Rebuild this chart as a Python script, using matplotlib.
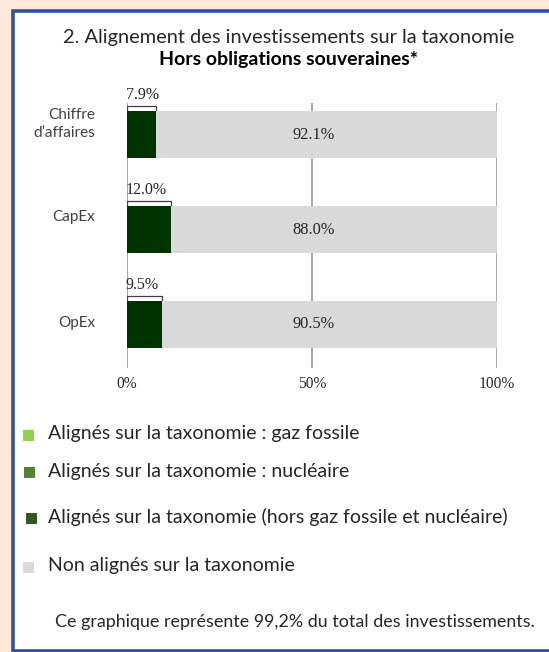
import matplotlib
matplotlib.use("Agg")
import matplotlib.pyplot as plt
from matplotlib.patches import Rectangle
from matplotlib.lines import Line2D

W, H = 549, 652

CATEGORIES = ["Chiffre\nd\u2019affaires", "CapEx", "OpEx"]
ALIGNED = [7.9, 12.0, 9.5]
NOT_ALIGNED = [92.1, 88.0, 90.5]
TICKS = [0, 50, 100]
TICK_LABELS = ["0%", "50%", "100%"]

LEGEND_LABELS = [
    "Alignés sur la taxonomie : gaz fossile",
    "Alignés sur la taxonomie : nucléaire",
    "Alignés sur la taxonomie (hors gaz fossile et nucléaire)",
    "Non alignés sur la taxonomie",
]
LEGEND_COLORS = ["#92d050", "#548235", "#375623", "#d9d9d9"]

TITLE = "2. Alignement des investissements sur la taxonomie"
SUBTITLE = "Hors obligations souveraines*"
FOOTER = "Ce graphique représente 99,2% du total des investissements."

SANS = ["Lato", "DejaVu Sans"]
SERIF = ["Liberation Serif", "DejaVu Serif"]

DARK_GREEN = "#003300"
GREY = "#d9d9d9"


def px(x, y):
    return x / W, 1 - y / H


fig = plt.figure(figsize=(W / 100, H / 100), dpi=100, facecolor="#fde9d9")

# white frame with blue border (behind the axes)
x0, y0 = px(12.5, 650.5)
x1, y1 = px(560, 10.5)
fig.patches.append(Rectangle((x0, y0), x1 - x0, y1 - y0, transform=fig.transFigure,
                             facecolor="white", edgecolor="#2f5597", linewidth=2.6,
                             zorder=-5))

fig.text(*px(289, 37), TITLE, ha="center", va="center", fontsize=14.4,
         family=SANS, color="#262626")
fig.text(*px(289, 60), SUBTITLE, ha="center", va="center", fontsize=14,
         family=SANS, fontweight="bold", color="black")

# bar chart area: 0% at x=127, 100% at x=497, grid from y=103 to 368
ax = fig.add_axes([127 / W, 1 - 368 / H, 370 / W, 265 / H])
ax.set_facecolor("none")
ypos = list(range(len(CATEGORIES)))
ax.barh(ypos, ALIGNED, height=0.495, color=DARK_GREEN, zorder=2)
ax.barh(ypos, NOT_ALIGNED, left=ALIGNED, height=0.495, color=GREY, zorder=2)
ax.set_xlim(0, 100)
ax.set_ylim(2.458, -0.332)
for t in TICKS:
    ax.axvline(t, color="#a6a6a6", linewidth=1.4, zorder=1)
for s in ax.spines.values():
    s.set_visible(False)
ax.set_xticks(TICKS)
ax.set_xticklabels(TICK_LABELS, family=SERIF, fontsize=11.2, color="#262626")
ax.tick_params(axis="x", length=0, pad=6)
ax.set_yticks([])

label_offsets = [-0.11, -0.13, -0.015]
for i, (cat, a, n) in enumerate(zip(CATEGORIES, ALIGNED, NOT_ALIGNED)):
    ax.text(-8.6, i + label_offsets[i], cat, ha="right", va="center", fontsize=11,
            family=SANS, color="#404040", linespacing=1.4)
    ax.text(50.5, i, f"{n:.1f}%", ha="center", va="center", fontsize=11.8,
            family=SERIF, color="#262626", zorder=3)
    # bracket above the aligned part
    yb = i - 0.3
    ax.add_line(Line2D([0, 0, a, a], [yb + 0.04, yb, yb, yb + 0.04],
                       color="#404040", linewidth=0.9, zorder=3))
    ax.text(-0.3, yb - 0.03, f"{a:.1f}%", ha="left", va="bottom", fontsize=11.5,
            family=SERIF, color="#262626")

# legend
legend_y = [435, 472, 518, 567]
legend_x = [28, 29.5, 31.5, 28]
for lab, col, ly, lx in zip(LEGEND_LABELS, LEGEND_COLORS, legend_y, legend_x):
    sx, sy = px(lx - 5.5, ly + 5.5)
    fig.patches.append(Rectangle((sx, sy), 11 / W, 11 / H, transform=fig.transFigure,
                                 facecolor=col, edgecolor="none"))
    fig.text(*px(48, ly - 1), lab, ha="left", va="center", fontsize=14,
             family=SANS, color="#262626")

fig.text(*px(295, 622), FOOTER, ha="center", va="center", fontsize=12.9,
         family=SANS, color="#262626")

fig.savefig("out.png", dpi=100, facecolor=fig.get_facecolor())
